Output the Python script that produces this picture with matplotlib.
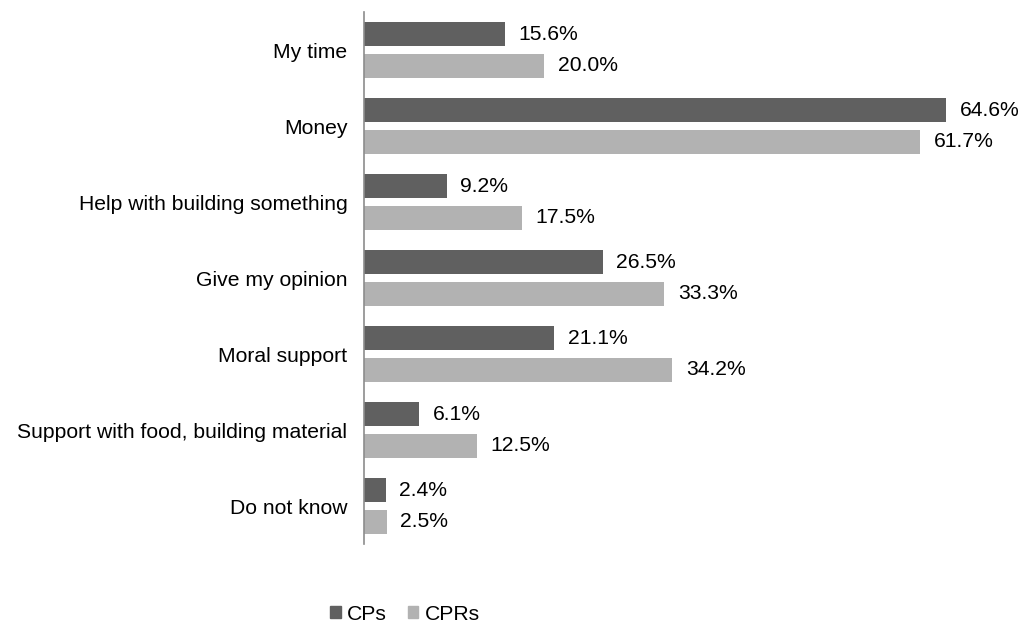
import matplotlib
matplotlib.use("Agg")
import matplotlib.pyplot as plt
import numpy as np
from matplotlib.patches import Patch

categories = ["My time", "Money", "Help with building something", "Give my opinion",
              "Moral support", "Support with food, building material", "Do not know"]
cps = [15.6, 64.6, 9.2, 26.5, 21.1, 6.1, 2.4]
cprs = [20.0, 61.7, 17.5, 33.3, 34.2, 12.5, 2.5]
series_names = ["CPs", "CPRs"]

plt.rcParams['font.family'] = ['Liberation Sans', 'DejaVu Sans']

fig = plt.figure(figsize=(10.31, 6.28), dpi=100)
ax = fig.add_axes([364/1031, 1-544/628, (995-364)/1031, (544-12)/628])

dark = "#606060"
light = "#b2b2b2"
fs = 15.2
y = np.arange(len(categories))
h = 0.316
off = 0.207
ax.barh(y - off, cps, height=h, color=dark)
ax.barh(y + off, cprs, height=h, color=light)

for yi, v in zip(y, cps):
    ax.text(v + 1.5, yi - off, f"{v:.1f}%", va="center", ha="left", fontsize=fs)
for yi, v in zip(y, cprs):
    ax.text(v + 1.5, yi + off, f"{v:.1f}%", va="center", ha="left", fontsize=fs)

ax.set_xlim(0, 70)
ax.set_ylim(len(categories) - 0.5, -0.5)
ax.set_yticks(y)
ax.set_yticklabels(categories, fontsize=fs)
ax.tick_params(axis="y", length=0, pad=12)
ax.set_xticks([])
for s in ["top", "right", "bottom"]:
    ax.spines[s].set_visible(False)
ax.spines["left"].set_color("#8c8c8c")
ax.spines["left"].set_linewidth(1.2)

handles = [Patch(color=dark), Patch(color=light)]
fig.legend(handles, series_names, loc="center", bbox_to_anchor=(405/1031, 1-614/628),
           ncol=2, frameon=False, fontsize=fs, handlelength=0.5, handleheight=0.5,
           handletextpad=0.3, columnspacing=1.0)

fig.savefig("out.png", dpi=100)
